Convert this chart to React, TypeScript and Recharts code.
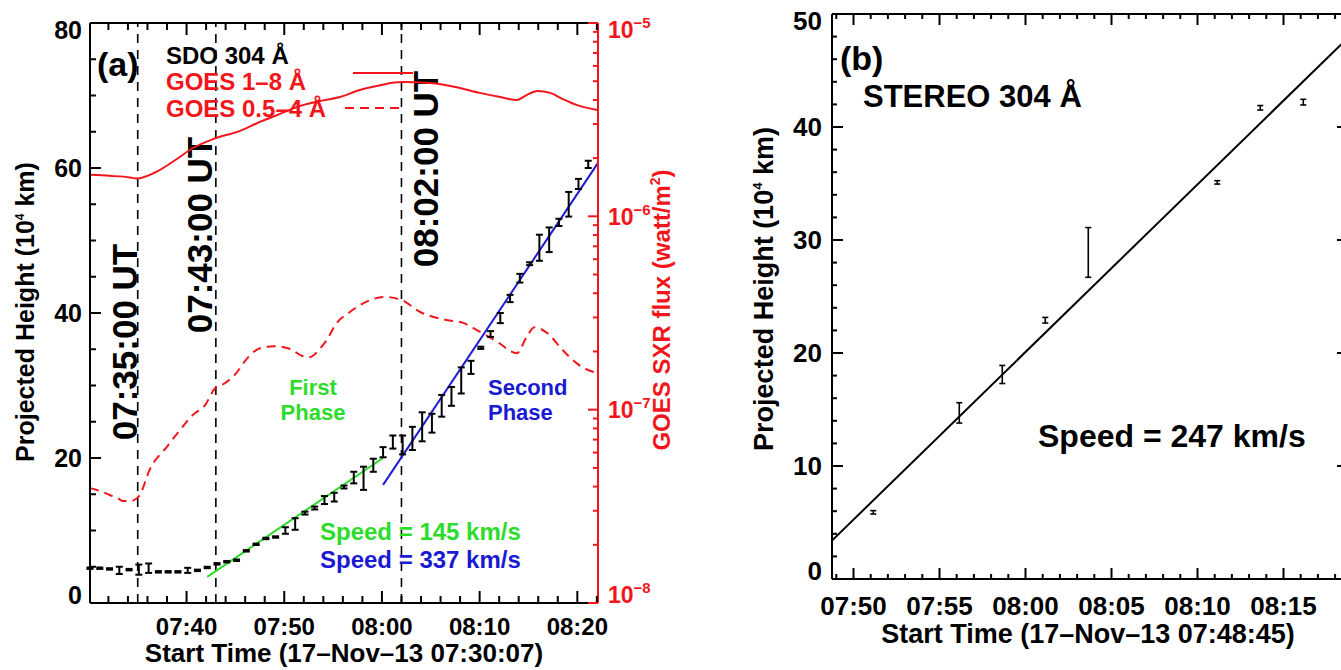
import React from 'react'
import { ComposedChart, Line, Scatter, ErrorBar, XAxis, YAxis, ReferenceLine } from 'recharts'

const FONT = '"Liberation Sans", Arial, Helvetica, sans-serif'
const RED = '#f2161c'
const GREEN = '#2bdc2b'
const BLUE = '#1a1ad2'

const clock = (s: string) => {
  const [h, m, sec] = s.split(':').map(Number)
  return h * 60 + m + (sec || 0) / 60
}

// ---- panel (a): minutes after 07:30:07
const startA = '07:30:07'
const sdoTime = [0, 1, 2, 3, 4, 5, 6, 7, 8, 9, 10, 11, 12, 13, 14, 15, 16, 17, 18, 19, 20, 21, 22, 23, 24, 25,
  26, 27, 28, 29, 30, 31, 32, 33, 34, 35, 36, 37, 38, 39, 40, 41, 42, 43, 44, 45, 46, 47, 48, 49, 50, 51]
const sdoHeight = [4.8, 4.8, 4.7, 4.5, 4.6, 4.6, 4.8, 4.3, 4.3, 4.3, 4.5, 4.5, 4.9, 5.4, 5.7, 5.9, 7.2, 8.1, 8.9, 9.1,
  10.0, 10.9, 12.4, 13.1, 14.2, 14.6, 16.0, 17.3, 17.2, 19.0, 20.8, 22.2, 21.8, 22.7, 24.3, 24.8, 27.2, 28.5,
  30.7, 32.5, 35.2, 37.1, 39.3, 42.0, 44.8, 46.8, 49.0, 50.1, 52.5, 55.0, 57.8, 60.5]
const sdoErr = [0.1, 0.1, 0.1, 0.5, 0.1, 0.7, 0.65, 0.1, 0.1, 0.1, 0.35, 0.1, 0.1, 0.1, 0.1, 0.1, 0.1, 0.1, 0.1, 0.1,
  0.45, 0.8, 0.2, 0.2, 0.55, 0.6, 0.2, 0.8, 1.6, 0.9, 0.7, 0.9, 1.3, 1.6, 2.0, 1.3, 1.5, 1.3,
  1.8, 0.9, 0.15, 0.4, 0.7, 0.5, 0.6, 0.2, 1.8, 1.7, 0.5, 1.7, 0.7, 0.5]

const goesLongTime = [0, 2, 4.1, 4.8, 6.6, 8.7, 10.5, 12.6, 15.3, 17.4, 19.4, 21.5, 23.5, 25.6, 27.6, 29.7, 31.9,
  34.8, 37.4, 39.9, 42.0, 43.7, 44.7, 45.8, 47.1, 48.4, 49.8, 51.9]
const goesLongFlux = [1.64e-6, 1.62e-6, 1.59e-6, 1.57e-6, 1.68e-6, 1.95e-6, 2.25e-6, 2.51e-6, 2.76e-6, 3.08e-6,
  3.38e-6, 3.72e-6, 3.95e-6, 4.14e-6, 4.5e-6, 4.77e-6, 4.95e-6, 4.89e-6, 4.67e-6, 4.35e-6, 4.14e-6, 4.0e-6,
  4.24e-6, 4.45e-6, 4.35e-6, 4.04e-6, 3.77e-6, 3.55e-6]

const goesShortTime = [0, 0.7, 1.3, 2.0, 2.8, 3.4, 4.1, 4.7, 5.1, 6.1, 6.7, 7.5, 9.2, 10.5, 11.8, 12.8, 13.8, 14.8,
  16.2, 17.4, 18.9, 20.5, 21.8, 22.5, 23.5, 24.3, 25.1, 26.6, 28.2, 30.2, 31.9, 33.8, 36.5, 38.2, 39.6, 41.7,
  43.7, 44.7, 45.5, 46.8, 48.4, 49.8, 51.5, 52.0]
const goesShortFlux = [3.93e-8, 3.84e-8, 3.75e-8, 3.62e-8, 3.49e-8, 3.37e-8, 3.37e-8, 3.45e-8, 3.62e-8, 4.88e-8,
  5.49e-8, 6.1e-8, 7.84e-8, 9.37e-8, 1.06e-7, 1.29e-7, 1.37e-7, 1.51e-7, 1.87e-7, 2.08e-7, 2.13e-7, 2.06e-7,
  1.89e-7, 1.87e-7, 2.06e-7, 2.32e-7, 2.74e-7, 3.2e-7, 3.6e-7, 3.83e-7, 3.69e-7, 3.2e-7, 2.91e-7, 2.81e-7,
  2.58e-7, 2.24e-7, 1.96e-7, 2.38e-7, 2.67e-7, 2.49e-7, 2.03e-7, 1.74e-7, 1.57e-7, 1.55e-7]

const fit1Time = [12.0, 30.0]
const fit1Height = [3.6, 20.0]
const fit2Time = [30.0, 52.0]
const fit2Height = [16.3, 60.7]

const markerTimes = ['07:35:00', '07:43:00', '08:02:00']
const markerLabelPos = [{ dx: -1, cy: 365 }, { dx: -4, cy: 258 }, { dx: 37, cy: 192 }]

const aTimeLabels = ['07:40', '07:50', '08:00', '08:10', '08:20']
const aHeightLabels = [0, 20, 40, 60, 80]
const fluxDecades = [-8, -7, -6, -5]

// ---- panel (b): minutes after 07:48:45
const startB = '07:48:45'
const stereoTime = [2.4, 7.4, 9.9, 12.4, 14.9, 22.4, 24.9, 27.4]
const stereoHeight = [5.9, 14.7, 18.1, 22.9, 28.9, 35.1, 41.7, 42.2]
const stereoErr = [0.15, 0.9, 0.8, 0.25, 2.2, 0.15, 0.2, 0.25]
const fitBTime = [0, 30]
const fitBHeight = [3.4, 47.9]
const bTimeLabels = ['07:50', '07:55', '08:00', '08:05', '08:10', '08:15']
const bHeightLabels = [0, 10, 20, 30, 40, 50]

// ---- helpers
const near = (a: number, b: number) => Math.abs(a - b) <= Math.abs(a) * 1e-9 + 1e-12
const range = (from: number, to: number, step: number) => {
  const out: number[] = []
  for (let v = from; v <= to + 1e-9; v += step) out.push(v)
  return out
}
const mergeTicks = (majors: number[], minors: number[]) =>
  [...majors, ...minors.filter((m) => !majors.some((M) => near(M, m)))].sort((p, q) => p - q)

type Side = 'top' | 'bottom' | 'left' | 'right'
interface TickSpec {
  side: Side
  majors: number[]
  labels?: [number, React.ReactNode][]
  majorLen: number
  minorLen: number
  color: string
  fontSize?: number
  gap?: number
  edge?: [number, number]
}

// inward tick marks (IDL style) + optional label
function makeTick(s: TickSpec) {
  return function Tick(p: any) {
    const x = Number(p.x)
    const y = Number(p.y)
    const v = Number(p.payload.value)
    const len = s.majors.some((m) => near(m, v)) ? s.majorLen : s.minorLen
    let x2 = x
    let y2 = y
    if (s.side === 'bottom') y2 = y - len
    if (s.side === 'top') y2 = y + len
    if (s.side === 'left') x2 = x + len
    if (s.side === 'right') x2 = x - len
    const hit = s.labels?.find(([k]) => near(k, v))
    let label: React.ReactNode = null
    if (hit) {
      const fs = s.fontSize ?? 24
      const gap = s.gap ?? 8
      let shift = 0
      if (s.edge && near(s.edge[0], v)) shift = -8
      if (s.edge && near(s.edge[1], v)) shift = 7
      const common = { fill: s.color, fontSize: fs, fontWeight: 700, fontFamily: FONT }
      if (s.side === 'bottom') {
        label = <text x={x} y={y + gap} textAnchor="middle" {...common}>{hit[1]}</text>
      } else if (s.side === 'left') {
        label = <text x={x - gap} y={y + fs * 0.36 + shift} textAnchor="end" {...common}>{hit[1]}</text>
      } else if (s.side === 'right') {
        label = <text x={x + gap} y={y + fs * 0.36 + shift} textAnchor="start" {...common}>{hit[1]}</text>
      }
    }
    return (
      <g>
        <path d={`M${x},${y}L${x2},${y2}`} stroke={s.color} strokeWidth={2} fill="none" />
        {label}
      </g>
    )
  }
}

const noDot = () => <g />

// ---- panel (a) ticks & data
const t0A = clock(startA)
const aMajor = aTimeLabels.map((l) => clock(l) - t0A)
const aXTicks = mergeTicks(aMajor, range(clock('07:32') - t0A, clock('08:22') - t0A, 2))
const aXLabels: [number, React.ReactNode][] = aMajor.map((v, i) => [v, aTimeLabels[i]])
const aYTicks = mergeTicks(aHeightLabels, range(0, 80, 5))
const fluxMajor = fluxDecades.map((d) => Math.pow(10, d))
const fluxMinor = fluxDecades.slice(0, -1).flatMap((d) => [2, 3, 4, 5, 6, 7, 8, 9].map((k) => k * Math.pow(10, d)))
const fluxTicks = mergeTicks(fluxMajor, fluxMinor)
const fluxLabels: [number, React.ReactNode][] = fluxDecades.map((d, i) => [
  fluxMajor[i],
  <>
    10<tspan dy={-10} fontSize={15}>{'\u2212' + String(-d)}</tspan>
  </>,
])

const sdo = sdoTime.map((t, i) => ({ t, h: sdoHeight[i], err: sdoErr[i] }))
const goesLong = goesLongTime.map((t, i) => ({ t, f: goesLongFlux[i] }))
const goesShort = goesShortTime.map((t, i) => ({ t, f: goesShortFlux[i] }))
const fit1 = fit1Time.map((t, i) => ({ t, h: fit1Height[i] }))
const fit2 = fit2Time.map((t, i) => ({ t, h: fit2Height[i] }))

const aBottomTick = makeTick({ side: 'bottom', majors: aMajor, labels: aXLabels, majorLen: 12, minorLen: 7, color: '#000', fontSize: 24, gap: 32 })
const aTopTick = makeTick({ side: 'top', majors: aMajor, majorLen: 12, minorLen: 7, color: '#000' })
const aLeftTick = makeTick({
  side: 'left', majors: aHeightLabels, labels: aHeightLabels.map((v) => [v, String(v)]), majorLen: 11, minorLen: 6,
  color: '#000', fontSize: 25, gap: 8, edge: [0, 80],
})
const fluxTick = makeTick({
  side: 'right', majors: fluxMajor, labels: fluxLabels, majorLen: 10, minorLen: 5, color: RED, fontSize: 23, gap: 10,
  edge: [1e-8, 1e-5],
})

// ---- panel (b) ticks & data
const t0B = clock(startB)
const bMajor = bTimeLabels.map((l) => clock(l) - t0B)
const bXTicks = mergeTicks(bMajor, range(clock('07:49') - t0B, clock('08:18') - t0B, 1))
const bXLabels: [number, React.ReactNode][] = bMajor.map((v, i) => [v, bTimeLabels[i]])
const bYTicks = mergeTicks(bHeightLabels, range(0, 50, 2))
const stereo = stereoTime.map((t, i) => ({ t, h: stereoHeight[i], err: stereoErr[i] }))
const fitB = fitBTime.map((t, i) => ({ t, h: fitBHeight[i] }))

const bBottomTick = makeTick({ side: 'bottom', majors: bMajor, labels: bXLabels, majorLen: 11, minorLen: 5, color: '#000', fontSize: 26, gap: 36 })
const bTopTick = makeTick({ side: 'top', majors: bMajor, majorLen: 11, minorLen: 5, color: '#000' })
const bLeftTick = makeTick({
  side: 'left', majors: bHeightLabels, labels: bHeightLabels.map((v) => [v, String(v)]), majorLen: 11, minorLen: 5,
  color: '#000', fontSize: 26, gap: 10, edge: [0, 50],
})
const bRightTick = makeTick({ side: 'right', majors: bHeightLabels, majorLen: 11, minorLen: 5, color: '#000' })

const axisLine = { stroke: '#000', strokeWidth: 2 }
const bare = { tickSize: 0, tickMargin: 0, tickLine: false, interval: 0 as const, allowDataOverflow: true }

const MarkerLabel = (text: string, dx: number, cy: number) => (p: any) => {
  const vb = p.viewBox || {}
  const x = Number(vb.x ?? 0) + dx
  return (
    <text transform={`translate(${x},${cy}) rotate(-90)`} textAnchor="middle" fontSize={35} fontWeight={700} fontFamily={FONT} fill="#000">
      {text}
    </text>
  )
}

// plot box of (a): x 90..598, y 23..603
const PanelA = () => (
  <ComposedChart width={700} height={670} margin={{ top: 13, right: 42, bottom: 27, left: 30 }}>
    <XAxis dataKey="t" type="number" domain={[0, 52]} ticks={aXTicks} height={40} {...bare}
      axisLine={axisLine} tick={aBottomTick} />
    <XAxis xAxisId="top" orientation="top" dataKey="t" type="number" domain={[0, 52]} ticks={aXTicks} height={10}
      {...bare} axisLine={axisLine} tick={aTopTick} />
    <YAxis type="number" domain={[0, 80]} ticks={aYTicks} width={60} {...bare} axisLine={axisLine} tick={aLeftTick} />
    <YAxis yAxisId="flux" orientation="right" type="number" scale="log" domain={[1e-8, 1e-5]} ticks={fluxTicks}
      width={60} {...bare} axisLine={{ stroke: RED, strokeWidth: 2 }} tick={fluxTick} />
    {markerTimes.map((m, i) => (
      <ReferenceLine key={m} x={clock(m) - t0A} stroke="#000" strokeWidth={1.6} strokeDasharray="9 7"
        label={MarkerLabel(`${m} UT`, markerLabelPos[i].dx, markerLabelPos[i].cy - 23)} />
    ))}
    <Line data={goesLong} yAxisId="flux" dataKey="f" type="monotone" stroke={RED} strokeWidth={2} dot={false} isAnimationActive={false} />
    <Line data={goesShort} yAxisId="flux" dataKey="f" type="monotone" stroke={RED} strokeWidth={2} strokeDasharray="9 6" dot={false} isAnimationActive={false} />
    <Line data={fit1} dataKey="h" stroke={GREEN} strokeWidth={2} dot={false} isAnimationActive={false} />
    <Line data={fit2} dataKey="h" stroke={BLUE} strokeWidth={2} dot={false} isAnimationActive={false} />
    <Scatter data={sdo} dataKey="h" shape={noDot} isAnimationActive={false}>
      <ErrorBar dataKey="err" direction="y" width={3.5} stroke="#000" strokeWidth={2} />
    </Scatter>
  </ComposedChart>
)

// plot box of (b): x 832..1348 (page), y 14..579
const PanelB = () => (
  <ComposedChart width={660} height={670} margin={{ top: 4, right: 2, bottom: 51, left: 72 }}>
    <XAxis dataKey="t" type="number" domain={[0, 30]} ticks={bXTicks} height={40} {...bare}
      axisLine={axisLine} tick={bBottomTick} />
    <XAxis xAxisId="top" orientation="top" dataKey="t" type="number" domain={[0, 30]} ticks={bXTicks} height={10}
      {...bare} axisLine={axisLine} tick={bTopTick} />
    <YAxis type="number" domain={[0, 50]} ticks={bYTicks} width={60} {...bare} axisLine={axisLine} tick={bLeftTick} />
    <YAxis yAxisId="r" orientation="right" type="number" domain={[0, 50]} ticks={bYTicks} width={10} {...bare}
      axisLine={axisLine} tick={bRightTick} />
    <Line data={fitB} dataKey="h" stroke="#000" strokeWidth={2} dot={false} isAnimationActive={false} />
    <Scatter data={stereo} dataKey="h" shape={noDot} isAnimationActive={false}>
      <ErrorBar dataKey="err" direction="y" width={3} stroke="#000" strokeWidth={1.6} />
    </Scatter>
  </ComposedChart>
)

const T = (props: React.SVGProps<SVGTextElement>) => <text fontFamily={FONT} fontWeight={700} {...props} />

const Annotations = () => (
  <svg width={1341} height={670} style={{ position: 'absolute', left: 0, top: 0, pointerEvents: 'none' }}>
    {/* panel (a) */}
    <T x={97} y={76} fontSize={34}>(a)</T>
    <T x={166} y={64} fontSize={24}>SDO 304 Å</T>
    <T x={166} y={90} fontSize={24} fill={RED}>GOES 1–8 Å</T>
    <T x={166} y={117} fontSize={24} fill={RED}>GOES 0.5–4 Å</T>
    <line x1={353} y1={73} x2={413} y2={73} stroke={RED} strokeWidth={2} />
    <line x1={345} y1={108} x2={400} y2={108} stroke={RED} strokeWidth={2} strokeDasharray="9 6" />
    <T x={313} y={395} fontSize={22} fill={GREEN} textAnchor="middle">First</T>
    <T x={313} y={420} fontSize={22} fill={GREEN} textAnchor="middle">Phase</T>
    <T x={488} y={395} fontSize={22} fill={BLUE}>Second</T>
    <T x={488} y={420} fontSize={22} fill={BLUE}>Phase</T>
    <T x={320} y={540} fontSize={24} fill={GREEN}>Speed = 145 km/s</T>
    <T x={320} y={568} fontSize={24} fill={BLUE}>Speed = 337 km/s</T>
    <T transform="translate(34,312) rotate(-90)" fontSize={25} textAnchor="middle">
      Projected Height (10<tspan dy={-10} fontSize={12}>4</tspan><tspan dy={10}> km)</tspan>
    </T>
    <T transform="translate(670,310) rotate(-90)" fontSize={24} textAnchor="middle" fill={RED}>
      GOES SXR flux (watt/m<tspan dy={-10} fontSize={14}>2</tspan><tspan dy={10}>)</tspan>
    </T>
    <T x={344} y={662} fontSize={26} textAnchor="middle">Start Time (17–Nov–13 07:30:07)</T>

    {/* panel (b) */}
    <T x={840} y={70} fontSize={34}>(b)</T>
    <T x={863} y={107} fontSize={31}>STEREO 304 Å</T>
    <T x={1038} y={447} fontSize={32}>Speed = 247 km/s</T>
    <T transform="translate(773,289) rotate(-90)" fontSize={27} textAnchor="middle">
      Projected Height (10<tspan dy={-11} fontSize={13}>4</tspan><tspan dy={11}> km)</tspan>
    </T>
    <T x={1088} y={643} fontSize={27} textAnchor="middle">Start Time (17–Nov–13 07:48:45)</T>
  </svg>
)

export default function App() {
  return (
    <div style={{ position: 'fixed', left: 0, top: 0, width: 1341, height: 670, overflow: 'hidden', background: '#fff' }}>
      <div style={{ position: 'absolute', left: 0, top: 0 }}>
        <PanelA />
      </div>
      <div style={{ position: 'absolute', left: 700, top: 0 }}>
        <PanelB />
      </div>
      <Annotations />
    </div>
  )
}
